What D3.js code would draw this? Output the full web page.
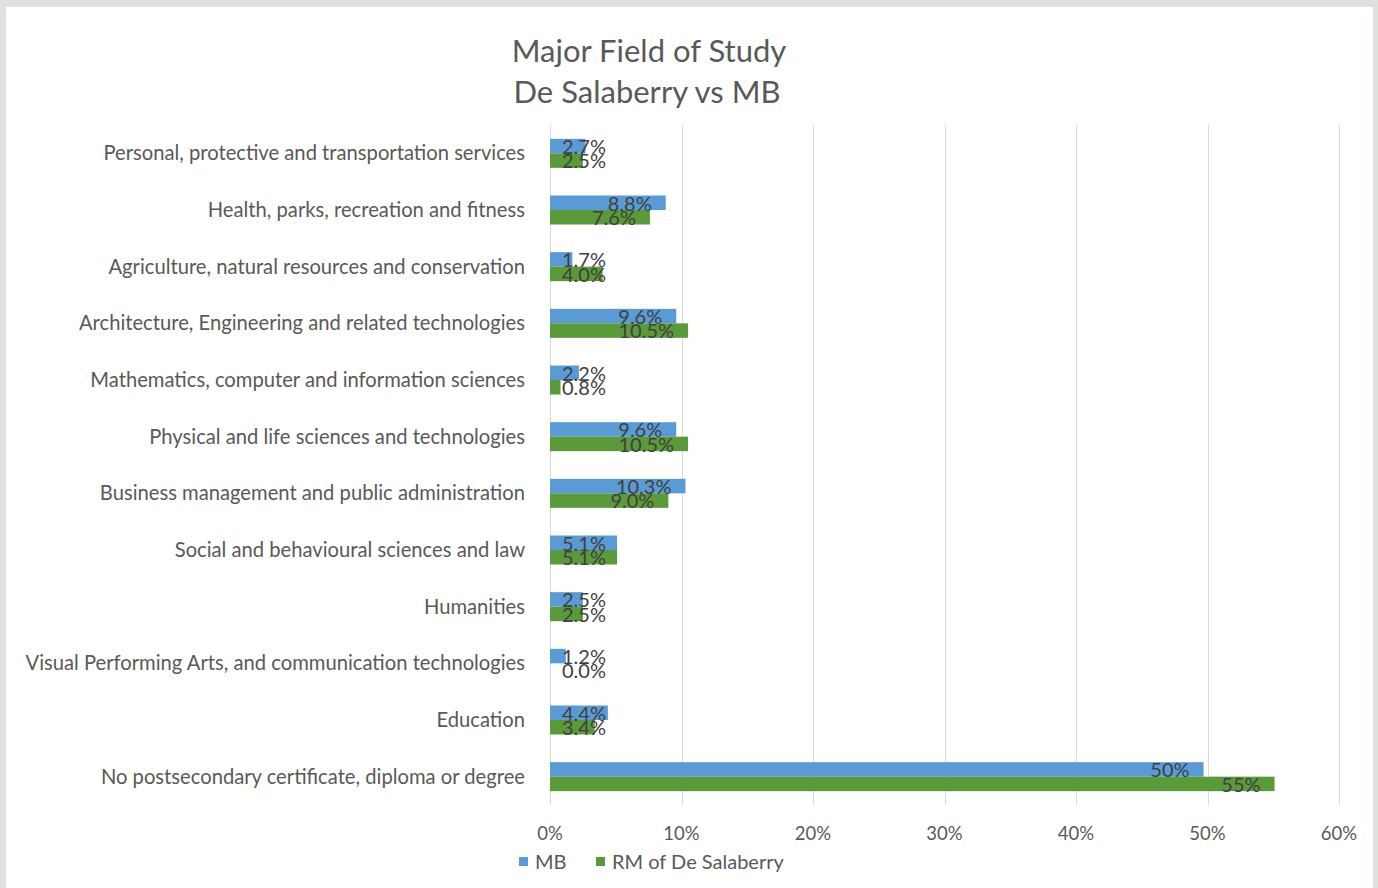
<!DOCTYPE html>
<html lang="en">
<head>
<meta charset="utf-8">
<title>Major Field of Study</title>
<script src="https://cdn.jsdelivr.net/npm/d3@7"></script>
<style>
  body { margin: 0; background: #dde3dc; }
  svg { display: block; font-family: Lato, "Open Sans", sans-serif; }
  .grid line { stroke: #d9d9d9; stroke-width: 1; shape-rendering: crispEdges; }
  .cat { fill: #595959; font-size: 20.2px; }
  .tick-label { fill: #595959; font-size: 18.5px; }
  .val { fill: #404040; font-size: 20px; }
</style>
</head>
<body>
<script>
var categories = [
  "Personal, protective and transportation services",
  "Health, parks, recreation and fitness",
  "Agriculture, natural resources and conservation",
  "Architecture, Engineering and related technologies",
  "Mathematics, computer and information sciences",
  "Physical and life sciences and technologies",
  "Business management and public administration",
  "Social and behavioural sciences and law",
  "Humanities",
  "Visual Performing Arts, and communication technologies",
  "Education",
  "No postsecondary certificate, diploma or degree"
];
var mbValues = [2.7, 8.8, 1.7, 9.6, 2.2, 9.6, 10.3, 5.1, 2.5, 1.2, 4.4, 49.7];
var rmValues = [2.5, 7.6, 4.0, 10.5, 0.8, 10.5, 9.0, 5.1, 2.5, 0.0, 3.4, 55.1];
var mbLabels = ["2.7%", "8.8%", "1.7%", "9.6%", "2.2%", "9.6%", "10.3%", "5.1%", "2.5%", "1.2%", "4.4%", "50%"];
var rmLabels = ["2.5%", "7.6%", "4.0%", "10.5%", "0.8%", "10.5%", "9.0%", "5.1%", "2.5%", "0.0%", "3.4%", "55%"];
var xTicks = [0, 10, 20, 30, 40, 50, 60];
var seriesNames = ["MB", "RM of De Salaberry"];
var colors = ["#5b9bd5", "#5a9a3a"];

var w = 1378, h = 888;
var svg = d3.select("body").append("svg").attr("width", w).attr("height", h);

// white panel
svg.append("rect").attr("x", 6).attr("y", 7).attr("width", 1367).attr("height", h - 7).attr("fill", "#ffffff");

var x = d3.scaleLinear().domain([0, 60]).range([550, 1339]);
var y = d3.scaleBand().domain(categories).range([125, 805]).padding(0);
var barH = 14.5;

// title
svg.append("text").attr("x", 649).attr("y", 62).attr("text-anchor", "middle")
  .attr("fill", "#595959").style("font-size", "31px").text("Major Field of Study");
svg.append("text").attr("x", 647).attr("y", 103).attr("text-anchor", "middle")
  .attr("fill", "#595959").style("font-size", "31px").text("De Salaberry vs MB");

// gridlines
svg.append("g").attr("class", "grid").selectAll("line").data(xTicks).enter().append("line")
  .attr("x1", function(d) { return Math.round(x(d)) + 0.5; })
  .attr("x2", function(d) { return Math.round(x(d)) + 0.5; })
  .attr("y1", 125).attr("y2", 805);

// tick labels
svg.selectAll(".tick-label").data(xTicks).enter().append("text")
  .attr("class", "tick-label")
  .attr("x", function(d) { return x(d); })
  .attr("y", 840)
  .attr("text-anchor", "middle")
  .text(function(d) { return d + "%"; });

// category labels
svg.selectAll(".cat").data(categories).enter().append("text")
  .attr("class", "cat")
  .attr("x", 525)
  .attr("y", function(d) { return y(d) + y.bandwidth() / 2 + 7; })
  .attr("text-anchor", "end")
  .text(function(d) { return d; });

// bars
var series = [mbValues, rmValues];
var labels = [mbLabels, rmLabels];
series.forEach(function(vals, s) {
  svg.append("g").selectAll("rect").data(vals).enter().append("rect")
    .attr("x", x(0))
    .attr("y", function(d, i) { return y(categories[i]) + y.bandwidth() / 2 - barH + s * barH; })
    .attr("width", function(d) { return x(d) - x(0); })
    .attr("height", barH)
    .attr("fill", colors[s]);
});

// value labels (inside end, clamped at left)
series.forEach(function(vals, s) {
  svg.append("g").selectAll("text").data(vals).enter().append("text")
    .attr("class", "val")
    .attr("y", function(d, i) { return y(categories[i]) + y.bandwidth() / 2 - barH + s * barH + 15; })
    .attr("text-anchor", "end")
    .text(function(d, i) { return labels[s][i]; })
    .attr("x", function(d) {
      var tw = this.getComputedTextLength();
      return Math.max(x(d) - 14, 562 + tw);
    });
});

// legend
var legX = [519, 596];
seriesNames.forEach(function(name, s) {
  svg.append("rect").attr("x", legX[s]).attr("y", 857).attr("width", 9).attr("height", 9).attr("fill", colors[s]);
  svg.append("text").attr("x", legX[s] + 16).attr("y", 869).attr("fill", "#595959")
    .style("font-size", "20px").text(name);
});
</script>
</body>
</html>
